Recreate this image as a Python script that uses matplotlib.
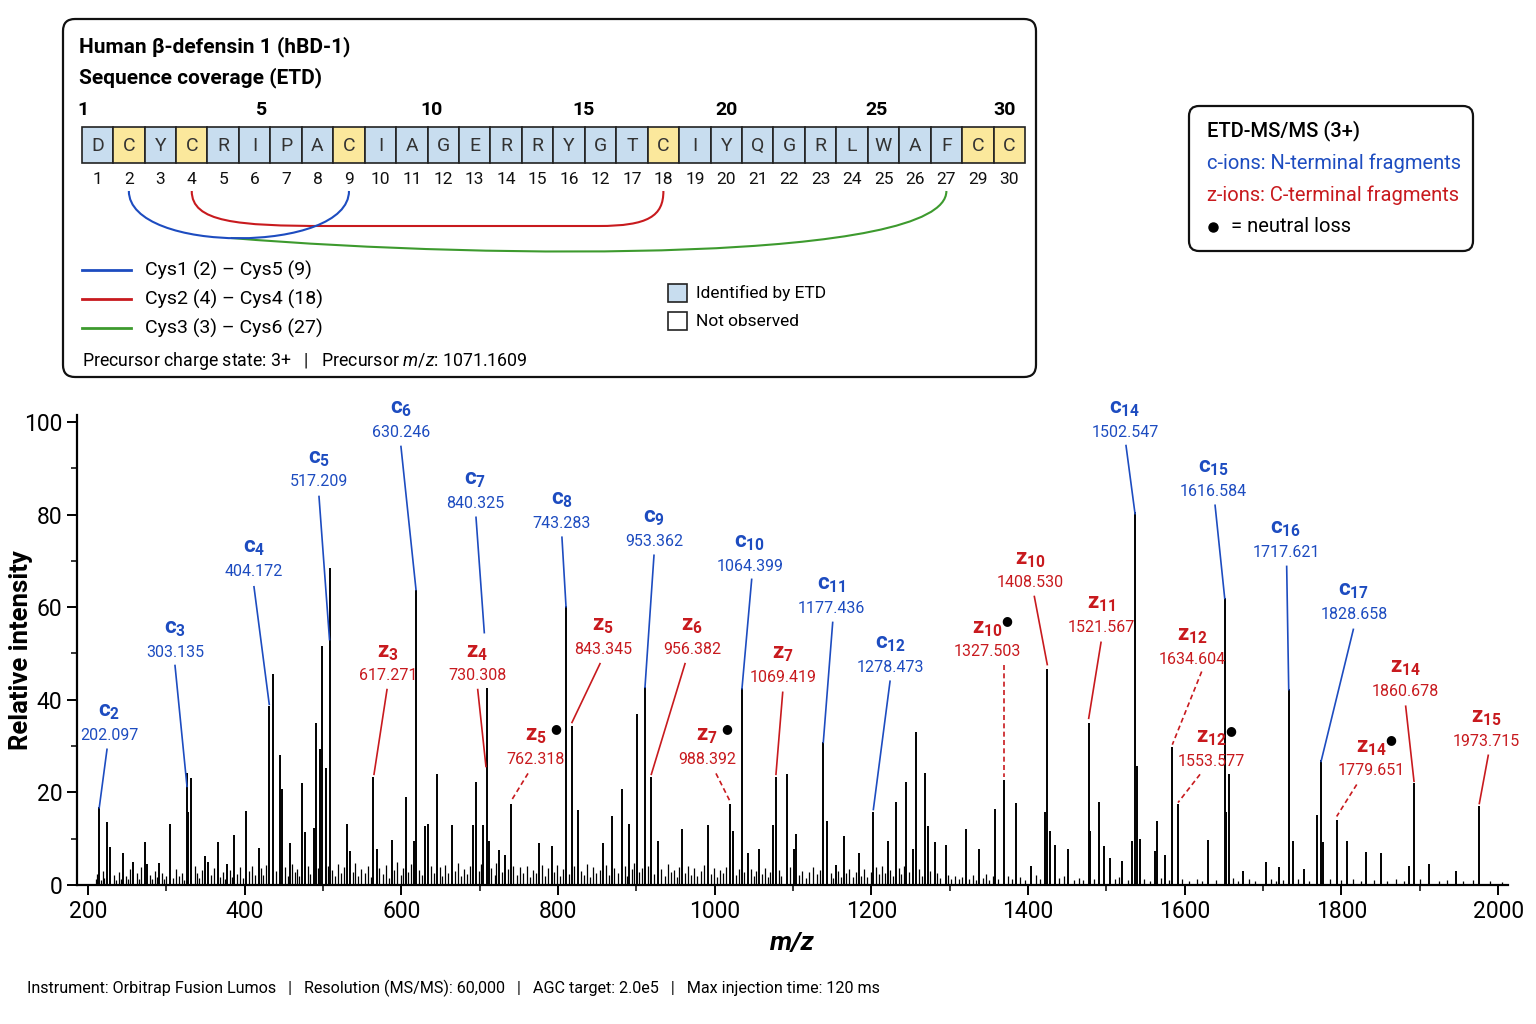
import numpy as np
import matplotlib
matplotlib.use("Agg")
import matplotlib.pyplot as plt
from matplotlib.patches import FancyBboxPatch, Rectangle, PathPatch
from matplotlib.path import Path

plt.rcParams['font.family'] = ['Roboto', 'DejaVu Sans']
plt.rcParams['mathtext.fontset'] = 'custom'
plt.rcParams['mathtext.rm'] = 'Roboto'
plt.rcParams['mathtext.it'] = 'Roboto:italic'
plt.rcParams['mathtext.bf'] = 'Roboto:bold'

BLUE = '#1d4cc0'
RED = '#c81a1e'
GREEN = '#3d9a2e'
CELL_BLUE = '#c8ddef'
CELL_YELLOW = '#fbe89c'

# ---- sequence panel data ----
sequence = list("DCYCRIPACIAGERRYGTCIYQGRLWAFCC")
position_labels = [1, 2, 3, 4, 5, 6, 7, 8, 9, 10, 11, 12, 13, 14, 15, 16, 12, 17,
                   18, 19, 20, 21, 22, 23, 24, 25, 26, 27, 29, 30]
ruler_labels = [1, 5, 10, 15, 20, 25, 30]
bonds = [(2, 9, 'Cys1 (2) – Cys5 (9)'),
         (4, 18, 'Cys2 (4) – Cys4 (18)'),
         (3, 27, 'Cys3 (3) – Cys6 (27)')]
bond_colors = [BLUE, RED, GREEN]

# ---- spectrum data (m/z, relative intensity) ----
major_peaks = [
    (214.4, 16.8), (224.3, 13.6), (227.7, 8.2), (244.3, 6.9), (257.1, 4.9), (272.4, 9.3),
    (275.7, 4.5), (290.2, 4.8), (304.7, 13.2), (326.4, 24.2), (328.0, 15.8), (331.5, 23.1),
    (349.0, 6.3), (353.6, 5.0), (365.9, 9.2), (377.4, 4.5), (386.0, 10.8), (402.1, 16.0),
    (417.9, 8.0), (431.4, 38.7), (436.2, 45.6), (444.7, 28.1), (448.0, 20.7), (457.5, 9.1),
    (473.6, 22.0), (477.0, 11.4), (488.1, 12.4), (490.7, 35.0), (496.5, 29.4), (499.1, 51.7),
    (503.4, 25.2), (508.9, 68.5), (530.6, 13.2), (534.4, 7.4), (564.2, 23.3), (568.9, 7.7),
    (587.7, 9.8), (605.5, 19.0), (616.1, 9.6), (618.3, 63.8), (629.8, 12.8), (634.0, 13.1),
    (645.9, 24.0), (664.3, 13.0), (691.8, 13.0), (695.3, 22.2), (704.6, 13.0), (708.9, 42.5),
    (711.9, 9.5), (724.3, 7.6), (732.3, 6.5), (739.6, 17.5), (775.7, 9.0), (791.9, 8.4),
    (810.2, 60.3), (817.8, 34.4), (825.1, 16.3), (857.8, 9.0), (868.9, 14.9), (881.7, 20.7),
    (891.0, 13.1), (900.8, 36.9), (911.0, 42.7), (919.1, 23.4), (928.0, 9.4), (957.9, 12.0),
    (991.0, 12.9), (1019.5, 17.5), (1023.7, 11.7), (1034.8, 42.5), (1042.9, 7.0), (1056.9, 7.7),
    (1074.8, 13.0), (1078.2, 23.3), (1092.6, 24.0), (1100.8, 7.8), (1103.8, 11.0), (1138.6, 30.8),
    (1143.3, 13.9), (1154.4, 4.3), (1164.7, 10.6), (1183.8, 7.0), (1202.5, 15.7), (1220.8, 9.4),
    (1231.4, 18.0), (1244.2, 22.3), (1252.7, 7.8), (1257.0, 33.1), (1268.4, 24.1), (1271.9, 12.8),
    (1280.8, 9.2), (1294.9, 8.6), (1320.8, 12.2), (1337.8, 7.8), (1358.2, 16.4), (1369.3, 22.7),
    (1385.0, 17.7), (1403.7, 4.0), (1421.6, 15.7), (1424.5, 46.7), (1428.0, 11.6), (1434.4, 8.6),
    (1451.4, 7.8), (1477.4, 35.0), (1478.7, 11.6), (1490.6, 18.0), (1496.6, 8.4), (1504.6, 5.8),
    (1520.3, 5.2), (1533.1, 9.6), (1536.5, 80.5), (1539.5, 25.8), (1542.9, 10.0), (1561.6, 7.4),
    (1565.0, 13.8), (1574.8, 6.4), (1584.1, 29.9), (1591.4, 17.4), (1629.7, 9.8), (1651.0, 62.0),
    (1652.7, 15.7), (1656.9, 24.0), (1674.4, 3.0), (1703.7, 4.9), (1720.7, 3.9), (1732.7, 42.3),
    (1737.8, 9.4), (1751.9, 3.5), (1768.9, 15.1), (1774.0, 26.9), (1776.1, 9.2), (1794.0, 14.1),
    (1807.5, 9.5), (1831.4, 7.2), (1850.5, 7.0), (1886.6, 4.2), (1892.6, 22.0), (1911.4, 4.5),
    (1946.3, 3.0), (1976.0, 17.1),
]

minor_peaks = [
    (210, 1.2), (212, 2.4), (216, 1.0), (219, 3.1), (221, 1.5), (233, 2.2), (236, 1.1), (239, 2.8),
    (242, 1.4), (248, 2.0), (251, 1.2), (254, 3.5), (262, 2.6), (265, 1.3), (268, 3.9), (279, 2.2),
    (282, 1.4), (285, 3.0), (288, 1.8), (294, 2.5), (297, 1.2), (300, 2.0), (309, 1.5), (312, 3.4),
    (316, 1.9), (320, 2.6), (323, 1.1), (336, 4.0), (339, 2.5), (342, 1.6), (345, 3.2), (357, 2.1),
    (361, 3.6), (369, 1.8), (372, 2.9), (375, 1.4), (381, 3.3), (384, 1.7), (390, 2.4), (394, 3.8),
    (398, 1.5), (406, 3.0), (410, 4.2), (413, 2.1), (421, 3.6), (424, 2.2), (427, 4.4), (440, 3.1),
    (452, 3.8), (455, 2.0), (461, 4.6), (464, 2.7), (467, 3.5), (470, 1.9), (481, 4.1), (484, 2.4),
    (493, 3.6), (506, 4.2), (512, 3.3), (515, 2.0), (519, 4.5), (523, 2.6), (527, 3.9), (538, 2.7),
    (541, 4.8), (545, 1.9), (549, 3.4), (553, 2.5), (557, 4.0), (561, 1.8), (572, 3.7), (576, 2.3),
    (580, 4.3), (584, 1.6), (591, 3.2), (595, 4.9), (599, 2.2), (602, 3.6), (609, 2.8), (612, 4.5),
    (622, 3.3), (626, 2.1), (638, 4.0), (642, 2.6), (649, 3.8), (652, 1.9), (656, 4.4), (660, 2.5),
    (668, 3.1), (672, 4.7), (676, 2.0), (680, 3.5), (684, 2.4), (688, 4.1), (699, 3.0), (702, 4.6),
    (715, 3.7), (719, 2.2), (721, 4.8), (728, 2.9), (736, 3.4), (743, 4.2), (747, 2.1), (751, 3.8),
    (755, 2.6), (760, 4.0), (764, 1.8), (768, 3.3), (772, 2.5), (779, 4.4), (783, 2.0), (787, 3.6),
    (795, 2.8), (799, 4.3), (803, 1.9), (806, 3.5), (814, 2.4), (821, 4.1), (829, 3.0), (833, 2.2),
    (837, 4.6), (841, 1.7), (845, 3.9), (849, 2.5), (853, 3.2), (861, 4.4), (865, 2.1), (872, 3.7),
    (876, 2.6), (885, 4.2), (888, 2.0), (894, 3.5), (897, 4.8), (904, 2.9), (907, 3.6), (915, 4.0),
    (923, 2.3), (932, 3.4), (936, 2.0), (940, 4.5), (944, 2.7), (948, 3.3), (952, 1.8), (955, 3.9),
    (962, 2.5), (966, 4.1), (970, 2.2), (974, 3.6), (978, 1.9), (982, 3.0), (986, 4.3), (995, 2.4),
    (999, 3.7), (1003, 1.8), (1007, 3.2), (1011, 2.6), (1015, 3.9), (1027, 2.1), (1031, 3.5),
    (1038, 2.8), (1046, 3.4), (1050, 1.9), (1053, 3.0), (1060, 2.4), (1064, 3.6), (1068, 1.7),
    (1071, 2.9), (1082, 3.3), (1085, 2.0), (1096, 3.8), (1108, 2.2), (1112, 3.1), (1116, 1.6),
    (1120, 2.7), (1125, 3.9), (1130, 2.4), (1135, 3.2), (1148, 2.5), (1151, 1.5), (1158, 3.0),
    (1161, 1.8), (1168, 2.6), (1172, 3.4), (1176, 1.7), (1180, 2.9), (1187, 2.0), (1191, 3.5),
    (1195, 1.8), (1199, 2.7), (1206, 3.8), (1210, 2.3), (1214, 4.1), (1217, 2.6), (1224, 3.3),
    (1228, 2.0), (1235, 3.6), (1238, 2.4), (1241, 4.2), (1248, 2.8), (1261, 3.5), (1265, 1.9),
    (1275, 3.1), (1284, 2.5), (1288, 1.6), (1298, 2.2), (1302, 1.4), (1307, 2.0), (1312, 1.2),
    (1316, 1.8), (1325, 1.3), (1330, 2.1), (1334, 1.0), (1342, 1.6), (1346, 2.4), (1350, 1.1),
    (1355, 1.9), (1362, 1.3), (1374, 2.0), (1380, 1.2), (1390, 1.7), (1396, 1.0), (1410, 2.2),
    (1415, 1.4), (1440, 1.5), (1446, 2.0), (1458, 1.1), (1465, 1.6), (1470, 1.0), (1484, 1.4),
    (1511, 1.2), (1516, 1.8), (1527, 1.0), (1548, 1.3), (1555, 0.9), (1570, 1.5), (1580, 1.0),
    (1597, 1.2), (1605, 0.8), (1615, 1.4), (1622, 0.9), (1640, 1.1), (1662, 1.6), (1668, 0.9),
    (1682, 1.2), (1690, 0.8), (1710, 1.3), (1716, 0.9), (1726, 1.1), (1745, 1.4), (1758, 0.9),
    (1786, 1.2), (1800, 1.0), (1815, 1.3), (1825, 0.8), (1842, 1.1), (1858, 0.9), (1870, 1.2),
    (1880, 0.8), (1900, 1.4), (1925, 0.9), (1935, 1.1), (1955, 0.8), (1968, 1.0), (1990, 0.9),
    (2005, 0.7),
]

# ---- fragment ion annotations ----
ion_types = ['c'] * 15 + ['z'] * 15
ion_numbers = [2, 3, 4, 5, 6, 7, 8, 9, 10, 11, 12, 14, 15, 16, 17,
               3, 4, 5, 5, 6, 7, 7, 10, 10, 11, 12, 12, 14, 14, 15]
ion_mz_labels = ['202.097', '303.135', '404.172', '517.209', '630.246', '840.325', '743.283',
                 '953.362', '1064.399', '1177.436', '1278.473', '1502.547', '1616.584',
                 '1717.621', '1828.658',
                 '617.271', '730.308', '762.318', '843.345', '956.382', '988.392', '1069.419',
                 '1327.503', '1408.530', '1521.567', '1634.604', '1553.577', '1860.678',
                 '1779.651', '1973.715']
ion_neutral_loss = [False] * 15 + [False, False, True, False, False, True, False,
                                   True, False, False, False, True, False, True, False]

# label placement (m/z, intensity of the value line) and leader lines
label_pos = [(226.8, 32.3), (311.1, 50.2), (411.9, 67.7), (494.9, 87.1), (599.5, 97.7),
             (694.0, 82.4), (805.0, 78.1), (922.5, 74.2), (1045.0, 68.8), (1148.4, 59.7),
             (1223.8, 47.0), (1523.7, 97.7), (1636.1, 85.0), (1729.2, 71.8), (1816.0, 58.4),
             (583.0, 45.2), (696.6, 45.2), (771.9, 27.1), (857.4, 50.9), (971.0, 50.9),
             (990.2, 27.1), (1087.2, 44.8), (1347.6, 50.4), (1402.5, 65.3), (1493.1, 55.6),
             (1609.3, 48.7), (1633.5, 26.7), (1881.2, 41.8), (1837.7, 24.7), (1984.5, 31.0)]
leader_start = [(224.3, 29.3), (311.1, 47.4), (411.9, 64.4), (494.9, 83.9), (599.5, 94.7),
                (695.3, 79.4), (805.0, 75.1), (922.5, 71.2), (1047.2, 66.0), (1150.6, 56.7),
                (1223.8, 44.0), (1525.0, 94.9), (1638.7, 82.0), (1730.1, 68.8), (1815.2, 55.2),
                (581.7, 42.2), (697.5, 42.2), (761.7, 24.1), (853.6, 47.8), (962.1, 47.8),
                (1001.6, 24.1), (1086.8, 41.6), (1369.3, 47.6), (1408.0, 62.3), (1493.1, 52.4),
                (1621.6, 46.1), (1619.5, 23.9), (1882.0, 38.6), (1819.5, 21.7), (1987.4, 28.0)]
leader_end = [(214.4, 16.7), (326.4, 21.3), (431.4, 39.0), (508.3, 53.0), (618.7, 63.8),
              (705.9, 54.5), (810.2, 60.1), (911.0, 42.7), (1034.8, 42.4), (1138.6, 30.8),
              (1202.5, 16.3), (1536.5, 80.2), (1651.0, 61.9), (1732.7, 42.2), (1774.0, 26.7),
              (565.1, 23.9), (708.0, 25.6), (739.6, 18.0), (817.8, 35.1), (919.1, 23.9),
              (1020.4, 17.8), (1078.2, 23.9), (1369.3, 23.4), (1424.5, 47.6), (1477.4, 36.0),
              (1584.1, 30.3), (1591.4, 17.8), (1892.6, 22.4), (1793.9, 14.8), (1976.0, 17.6)]
leader_dashed = [False] * 15 + [False, False, True, False, False, True, False,
                                True, False, False, True, True, False, True, False]

footer = ("Instrument: Orbitrap Fusion Lumos   |   Resolution (MS/MS): 60,000   |   "
          "AGC target: 2.0e5   |   Max injection time: 120 ms")

fig = plt.figure(figsize=(15.36, 10.24), dpi=100)

# overlay in pixel units for the info panels
ax0 = fig.add_axes([0, 0, 1, 1])
ax0.set_xlim(0, 1536)
ax0.set_ylim(1024, 0)
ax0.axis('off')

ax0.add_patch(FancyBboxPatch((63, 19), 973, 358, boxstyle="round,pad=0,rounding_size=12",
                             fc='white', ec='#111111', lw=1.6))
ax0.add_patch(FancyBboxPatch((1189, 106), 284, 145, boxstyle="round,pad=0,rounding_size=10",
                             fc='white', ec='#111111', lw=1.6))

ax0.text(79, 47, 'Human β-defensin 1 (hBD-1)', fontsize=15, fontweight='bold', va='center')
ax0.text(79, 78, 'Sequence coverage (ETD)', fontsize=15, fontweight='bold', va='center')

ruler_x = [83, 262, 432, 583, 726, 876, 1005]
for n, x in zip(ruler_labels, ruler_x):
    ax0.text(x, 110, str(n), fontsize=14, fontweight='bold', ha='center', va='center')

x0, x1, ytop, h = 81.7, 1025.0, 127, 36
cw = (x1 - x0) / len(sequence)
centers = []
for i, aa in enumerate(sequence):
    fc = CELL_YELLOW if aa == 'C' else CELL_BLUE
    ax0.add_patch(Rectangle((x0 + i * cw, ytop), cw, h, fc=fc, ec='#222222', lw=1.2))
    cx = x0 + (i + 0.5) * cw
    centers.append(cx)
    ax0.text(cx, ytop + h / 2 + 1, aa, fontsize=14, color='#333333', ha='center', va='center')
    ax0.text(cx, 179, str(position_labels[i]), fontsize=12.5, color='#111111',
             ha='center', va='center')


def cell_x(pos):
    return centers[position_labels.index(pos)]


# disulfide bridges
ya = 191
xb1, xb2 = cell_x(bonds[0][0]), cell_x(bonds[0][1])
blue_path = Path([(xb1, ya), (xb1, 254), (xb2, 254), (xb2, ya)],
                 [Path.MOVETO, Path.CURVE4, Path.CURVE4, Path.CURVE4])
xr1, xr2 = cell_x(bonds[1][0]), cell_x(bonds[1][1])
red_path = Path([(xr1, ya), (xr1, 222), (xr1 + 45, 226), (xr1 + 135, 226),
                 (xr2 - 65, 226), (xr2 - 15, 226), (xr2, 216), (xr2, ya)],
                [Path.MOVETO, Path.CURVE4, Path.CURVE4, Path.CURVE4,
                 Path.LINETO, Path.CURVE4, Path.CURVE4, Path.CURVE4])
xg_start = (xb1 + xb2) / 2
xg2 = cell_x(bonds[2][1])
green_path = Path([(xg_start - 8, 238), (xg_start + 260, 260), (xg2, 262), (xg2, ya)],
                  [Path.MOVETO, Path.CURVE4, Path.CURVE4, Path.CURVE4])
for p, c in zip([green_path, red_path, blue_path], [GREEN, RED, BLUE]):
    ax0.add_patch(PathPatch(p, fc='none', ec=c, lw=1.5))

for k, (b, c) in enumerate(zip(bonds, bond_colors)):
    yy = 270 + k * 29
    ax0.plot([82, 131], [yy, yy], color=c, lw=2)
    ax0.text(145, yy, b[2], fontsize=14, va='center')

ax0.add_patch(Rectangle((668, 284), 19, 18, fc=CELL_BLUE, ec='#222222', lw=1.2))
ax0.add_patch(Rectangle((668, 312), 19, 18, fc='white', ec='#222222', lw=1.2))
ax0.text(696, 293, 'Identified by ETD', fontsize=12.5, va='center')
ax0.text(696, 321, 'Not observed', fontsize=12.5, va='center')
ax0.text(82, 361, 'Precursor charge state: 3+   |   Precursor $m/z$: 1071.1609',
         fontsize=12.8, va='center')

ax0.text(1207, 131, 'ETD-MS/MS (3+)', fontsize=14.5, fontweight='medium', va='center')
ax0.text(1207, 163, 'c-ions: N-terminal fragments', fontsize=14.5, color=BLUE, va='center')
ax0.text(1207, 195, 'z-ions: C-terminal fragments', fontsize=14.5, color=RED, va='center')
ax0.plot([1213], [227], 'o', color='black', ms=6.5)
ax0.text(1231, 227, '= neutral loss', fontsize=14.5, va='center')

ax0.text(27, 988, footer, fontsize=11.6, va='center')

# ---- spectrum ----
ax = fig.add_axes([77 / 1536, 139 / 1024, 1431 / 1536, 470 / 1024])
mn_mz, mn_int = zip(*minor_peaks)
mj_mz, mj_int = zip(*major_peaks)
ax.vlines(mn_mz, 0, mn_int, color='black', lw=0.9)
ax.vlines(mj_mz, 0, mj_int, color='black', lw=1.4)

ax.set_xlim(186, 2012.6)
ax.set_ylim(0, 101.5)
for s in ['top', 'right']:
    ax.spines[s].set_visible(False)
for s in ['left', 'bottom']:
    ax.spines[s].set_linewidth(1.6)
ax.set_xticks(np.arange(200, 2001, 200))
ax.set_xticks(np.arange(300, 2001, 200), minor=True)
ax.set_yticks(np.arange(0, 101, 20))
ax.set_yticks(np.arange(10, 101, 20), minor=True)
ax.tick_params(which='major', length=7, width=1.4, labelsize=16.5)
ax.tick_params(which='minor', length=4, width=1.1)
ax.set_ylabel('Relative intensity', fontsize=18.5, fontweight='bold')
ax.yaxis.set_label_coords(-0.031, 0.5)
ax.set_xlabel('m/z', fontsize=19, fontweight='bold', fontstyle='italic', labelpad=6)

for i in range(len(ion_types)):
    col = BLUE if ion_types[i] == 'c' else RED
    lx, ly = label_pos[i]
    ax.text(lx, ly, ion_mz_labels[i], fontsize=11.5, color=col, ha='center', va='center')
    name = r'$\mathbf{%s}_{\mathbf{%d}}$' % (ion_types[i], ion_numbers[i])
    ax.annotate(name, (lx, ly), xytext=(0, 17), textcoords='offset points',
                fontsize=16, color=col, ha='center', va='center')
    if ion_neutral_loss[i]:
        ax.annotate('●', (lx, ly), xytext=(14, 22), textcoords='offset points',
                    fontsize=9, color='black', ha='center', va='center',
                    family=['DejaVu Sans'])
    (sx, sy), (ex, ey) = leader_start[i], leader_end[i]
    ax.plot([sx, ex], [sy, ey], color=col, lw=1.2,
            ls=(0, (3, 2)) if leader_dashed[i] else '-', clip_on=False)

fig.savefig('out.png', dpi=100)
